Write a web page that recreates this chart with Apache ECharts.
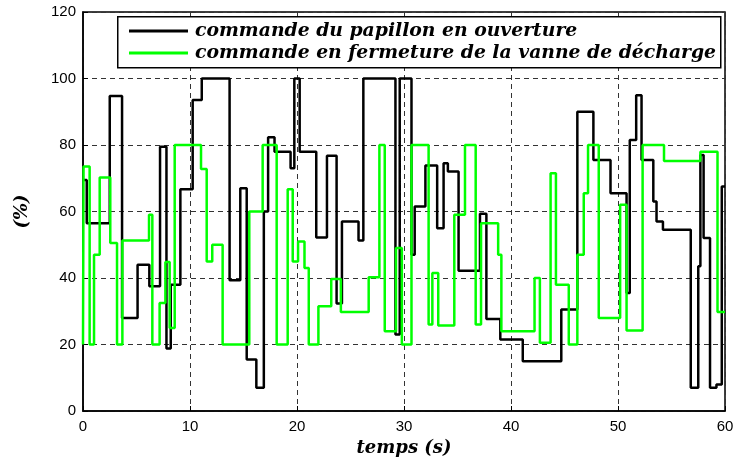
<!DOCTYPE html>
<html><head><meta charset="utf-8">
<script src="https://cdn.jsdelivr.net/npm/echarts@6/dist/echarts.min.js"></script>
<style>html,body{margin:0;padding:0;background:#fff}#c{width:738px;height:461px}</style>
</head><body><div id="c"></div>
<script>
const blackName = 'commande du papillon en ouverture';
const greenName = 'commande en fermeture de la vanne de décharge';
const xTicks = [0, 10, 20, 30, 40, 50, 60];
const yTicks = [0, 20, 40, 60, 80, 100, 120];
const blackT = [0,0.35,2.5,3.65,5.1,6.2,7.2,7.8,8.2,9.1,10.25,11.1,13.7,14.7,15.3,16.2,16.9,17.3,17.9,19.4,19.75,20.25,21.8,22.8,23.7,24.2,25.75,26.2,29.2,29.6,30.7,31.0,32.0,33.1,33.7,34.1,35.1,37.1,37.7,39.0,41.1,44.7,46.2,47.7,49.3,50.8,51.1,51.7,52.2,53.3,53.6,54.2,56.8,57.5,57.7,58.0,58.6,59.2,59.7,60];
const blackV = [69.5,56.5,94.7,28,44,37.5,79.5,18.8,38,66.7,93.5,100,39.3,67,15.5,7,60,82.3,78,73,100,78,52.2,76.8,32.3,57,51.3,100,23,100,47,61.5,73.8,55,74.5,72,42.2,59.3,27.7,21.5,15,30.5,90,75.5,65.5,35.5,81.5,95,75.5,63,57,54.5,7,43.5,77,52,7,8,67.5,67.5];
const greenT = [0,0.05,0.62,1.03,1.56,2.55,3.18,3.68,6.17,6.48,7.16,7.7,8.1,8.57,11.03,11.56,12.08,13.05,15.54,16.79,18.1,19.13,19.6,20.1,20.7,21.1,22.0,23.2,24.1,26.7,27.7,28.2,29.25,29.8,30.7,32.3,32.65,33.2,34.7,35.7,36.7,37.2,38.8,39.1,42.2,42.7,43.7,44.2,45.4,46.2,46.8,47.2,48.2,50.2,50.8,52.3,54.3,57.7,59.3,60];
const greenV = [20,73.5,20,47,70.2,50.5,20,51.3,59,20,32.5,44.8,25,80,72.8,45,50,20,60,80,20,66.7,45,51,43,20,31.5,39.7,29.8,40.2,80,24,49,20,80,26,41.5,25.7,59,80,26,56.5,47,24,40,20.5,71.5,38,20,47,65.5,80,28,62,24.2,80,75.2,78,29.8,29.8];

const pairs = (t, v) => t.map((x, i) => [x, v[i]]);
const labFont = {fontFamily: 'Liberation Sans, Arial, sans-serif', fontSize: 15, color: '#000'};
const serifBI = {fontFamily: 'DejaVu Serif', fontWeight: 'bold', fontStyle: 'italic', color: '#000'};

const chart = echarts.init(document.getElementById('c'), null, {renderer: 'canvas'});
chart.setOption({
  animation: false,
  backgroundColor: '#fff',
  grid: {left: 83, right: 13, top: 12, bottom: 50, containLabel: false, outerBoundsMode: 'none',
    show: true, borderColor: '#000', borderWidth: 1.5, backgroundColor: 'transparent'},
  graphic: [{type: 'rect', left: 117, top: 16, z: 50,
    shape: {width: 603, height: 51}, style: {fill: '#fff', stroke: '#000', lineWidth: 1.5}}],
  legend: {
    orient: 'vertical', left: 129, top: 20, z: 60, padding: 0,
    itemWidth: 59, itemHeight: 3, itemGap: 0, icon: 'rect',
    textStyle: Object.assign({fontSize: 18.8, lineHeight: 22, padding: [0, 0, 0, 2]}, serifBI),
    data: [blackName, greenName]
  },
  xAxis: {
    type: 'value', min: 0, max: 60, interval: 10,
    name: 'temps (s)', nameLocation: 'middle', nameGap: 26,
    nameTextStyle: Object.assign({fontSize: 18}, serifBI),
    axisLine: {show: true, lineStyle: {color: '#000', width: 1.5}},
    axisTick: {show: true, inside: true, length: 5, lineStyle: {color: '#000'}},
    axisLabel: Object.assign({margin: 8, formatter: v => xTicks.includes(v) ? String(v) : ''}, labFont),
    splitLine: {show: true, lineStyle: {color: '#333', type: [5, 4], width: 1}}
  },
  yAxis: {
    type: 'value', min: 0, max: 120, interval: 20,
    name: '(%)', nameLocation: 'middle', nameGap: 52,
    nameTextStyle: Object.assign({fontSize: 18}, serifBI),
    axisLine: {show: true, lineStyle: {color: '#000', width: 1.5}},
    axisTick: {show: true, inside: true, length: 5, lineStyle: {color: '#000'}},
    axisLabel: Object.assign({margin: 7, formatter: v => yTicks.includes(v) ? String(v) : ''}, labFont),
    splitLine: {show: true, lineStyle: {color: '#333', type: [5, 4], width: 1}}
  },
  series: [
    {name: blackName, type: 'line', step: 'end', symbol: 'none', data: pairs(blackT, blackV),
     lineStyle: {color: '#000', width: 2.5}, itemStyle: {color: '#000'}, z: 3},
    {name: greenName, type: 'line', step: 'end', symbol: 'none', data: pairs(greenT, greenV),
     lineStyle: {color: '#00ff00', width: 2.5}, itemStyle: {color: '#00ff00'}, z: 4}
  ]
});
</script></body></html>
